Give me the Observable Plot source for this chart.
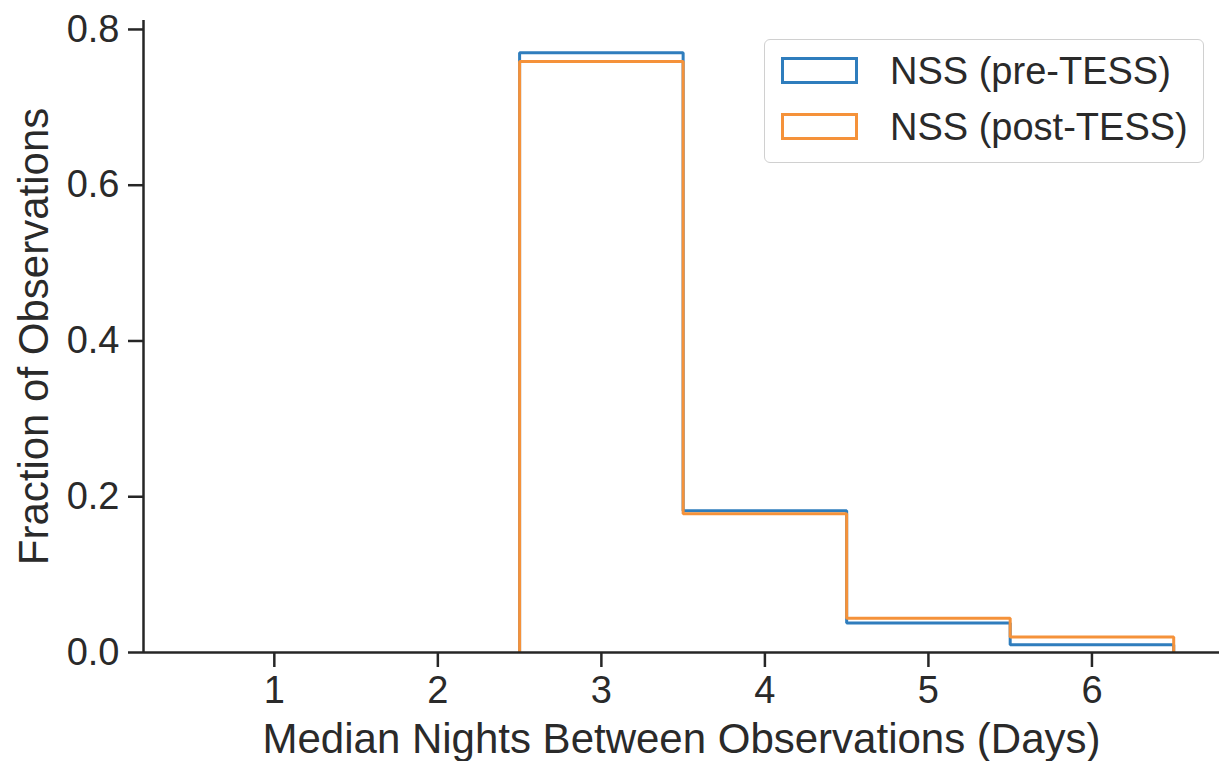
<!DOCTYPE html>
<html>
<head>
<meta charset="utf-8">
<script src="https://cdn.jsdelivr.net/npm/d3@7"></script>
<script src="https://cdn.jsdelivr.net/npm/@observablehq/plot@0.6"></script>
<style>
  html, body { margin: 0; padding: 0; background: white; }
  #wrap { position: relative; width: 1219px; height: 761px; font-family: "Liberation Sans", Arial, sans-serif; }
  #legend { position: absolute; left: 764px; top: 39px; width: 440px; height: 124px; box-sizing: border-box;
    border: 1.5px solid #d0d0d0; border-radius: 6px; background: rgba(255,255,255,0.85); }
  .sw { position: absolute; left: 16px; width: 77px; height: 27px; box-sizing: border-box; border: 3px solid; }
  .lab { position: absolute; left: 125px; font-size: 38px; line-height: 38px; color: #2a2a2a; white-space: nowrap; }
</style>
</head>
<body>
<div id="wrap"></div>
<script>
const binEdges = [2.5, 3.5, 4.5, 5.5, 6.5];
const preTESS = [0.770, 0.182, 0.038, 0.010];
const postTESS = [0.759, 0.178, 0.044, 0.020];
const seriesNames = ["NSS (pre-TESS)", "NSS (post-TESS)"];
const seriesColors = ["#2f7dbd", "#f5923a"];
const xTicks = [1, 2, 3, 4, 5, 6];
const yTicks = [0, 0.2, 0.4, 0.6, 0.8];
const xLabel = "Median Nights Between Observations (Days)";
const yLabel = "Fraction of Observations";

function stepPath(vals) {
  const pts = [{x: binEdges[0], y: 0}];
  vals.forEach((v, i) => {
    pts.push({x: binEdges[i], y: v});
    pts.push({x: binEdges[i + 1], y: v});
  });
  pts.push({x: binEdges[binEdges.length - 1], y: 0});
  return pts;
}

const chart = Plot.plot({
  width: 1219,
  height: 761,
  marginLeft: 143,
  marginRight: 0,
  marginTop: 20,
  marginBottom: 109,
  x: {domain: [0.2, 6.78]},
  y: {domain: [0, 0.8115]},
  style: {fontFamily: "'Liberation Sans', Arial, sans-serif", color: "#2a2a2a", background: "white", overflow: "visible"},
  marks: [
    Plot.line(stepPath(preTESS), {x: "x", y: "y", stroke: seriesColors[0], strokeWidth: 3, strokeLinejoin: "miter", strokeLinecap: "butt"}),
    Plot.line(stepPath(postTESS), {x: "x", y: "y", stroke: seriesColors[1], strokeWidth: 3, strokeLinejoin: "miter", strokeLinecap: "butt"}),
    Plot.ruleY([0], {stroke: "#262626", strokeWidth: 2.5}),
    Plot.ruleX([0.2], {stroke: "#262626", strokeWidth: 2.5}),
    Plot.axisY({ticks: yTicks, tickFormat: d3.format(".1f"), tickSize: 15, tickPadding: 9, fontSize: 38, strokeWidth: 2.5, label: null, stroke: "#262626"}),
    Plot.axisX({ticks: xTicks, tickFormat: d3.format("d"), tickSize: 15, tickPadding: 9, fontSize: 38, strokeWidth: 2.5, label: null, stroke: "#262626"}),
    Plot.text([xLabel], {frameAnchor: "bottom", textAnchor: "middle", dy: 100, lineAnchor: "bottom", fontSize: 42, fill: "#2a2a2a"}),
    Plot.text([yLabel], {frameAnchor: "left", textAnchor: "middle", dx: -96, rotate: -90, lineAnchor: "bottom", fontSize: 42, fill: "#2a2a2a"})
  ]
});
const wrap = document.getElementById("wrap");
wrap.appendChild(chart);

const legend = document.createElement("div");
legend.id = "legend";
seriesNames.forEach((name, i) => {
  const sw = document.createElement("div");
  sw.className = "sw";
  sw.style.top = (17 + i * 56) + "px";
  sw.style.borderColor = seriesColors[i];
  const lab = document.createElement("div");
  lab.className = "lab";
  lab.style.top = (12 + i * 56) + "px";
  lab.textContent = name;
  legend.appendChild(sw);
  legend.appendChild(lab);
});
wrap.appendChild(legend);
</script>
</body>
</html>
